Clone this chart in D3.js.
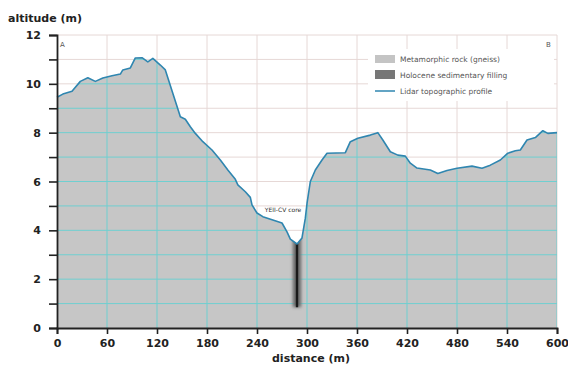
<!DOCTYPE html>
<html><head><meta charset="utf-8">
<script src="https://cdn.jsdelivr.net/npm/d3@7"></script>
<style>body{margin:0;background:#fff}svg{display:block}text{font-family:"DejaVu Sans",sans-serif}</style>
</head><body>
<svg id="c" width="568" height="367"></svg>
<script>
const distance = [0,7,18,28,37,46,55,66,76,79,88,94,102,109,115,124,130,148,154,160,166,175,186,196,205,214,217,226,232,234,240,247,259,270,276,280,288,294,298,300,304,310,318,324,346,352,361,376,385,391,400,409,418,424,432,448,457,468,480,498,510,520,532,541,550,556,564,574,583,589,600];
const altitude = [9.45,9.58,9.7,10.1,10.25,10.1,10.24,10.33,10.4,10.57,10.65,11.06,11.07,10.9,11.04,10.77,10.57,8.65,8.55,8.24,7.97,7.63,7.29,6.88,6.47,6.09,5.86,5.58,5.35,5.04,4.71,4.56,4.42,4.3,3.94,3.64,3.44,3.69,4.5,5.1,6.0,6.47,6.88,7.16,7.18,7.63,7.77,7.9,8.0,7.7,7.22,7.08,7.04,6.75,6.55,6.47,6.33,6.45,6.54,6.63,6.54,6.67,6.88,7.16,7.26,7.29,7.7,7.8,8.08,7.97,8.0];
const xTicks = [0,60,120,180,240,300,360,420,480,540,600];
const yTicks = [0,1,2,3,4,5,6,7,8,9,10,11,12];
const yLabels = [0,2,4,6,8,10,12];
const coreDistance = 288;
const coreBottom = 0.85;
const fillingRange = [283, 293];
const legendItems = ["Metamorphic rock (gneiss)","Holocene sedimentary filling","Lidar topographic profile"];

const svg = d3.select("#c");
const x = d3.scaleLinear().domain([0,600]).range([57,557]);
const y = d3.scaleLinear().domain([0,12]).range([328,35]);
const pts = distance.map((d,i)=>[d, altitude[i]]);

const defs = svg.append("defs");
const area = d3.area().x(d=>x(d[0])).y0(y(0)).y1(d=>y(d[1]));
defs.append("clipPath").attr("id","clipA").append("path").attr("d", area(pts));
const blur = defs.append("filter").attr("id","bl").attr("x","-1").attr("y","-1").attr("width","3").attr("height","3");
blur.append("feGaussianBlur").attr("stdDeviation",1.6);

// pale grid
const gridG = svg.append("g");
function drawGrid(g, color){
  g.selectAll(".h").data(yTicks.filter(v=>v>0)).join("line")
    .attr("x1",x(0)).attr("x2",x(600)).attr("y1",d=>y(d)).attr("y2",d=>y(d))
    .attr("stroke",color).attr("stroke-width",1);
  g.selectAll(".v").data(xTicks.filter(v=>v>0)).join("line")
    .attr("x1",d=>x(d)).attr("x2",d=>x(d)).attr("y1",y(0)).attr("y2",y(12))
    .attr("stroke",color).attr("stroke-width",1);
}
drawGrid(gridG, "#e6d8d6");

// area
svg.append("path").attr("d", area(pts)).attr("fill","#c6c6c6");

// cyan grid clipped
const g2 = svg.append("g").attr("clip-path","url(#clipA)");
drawGrid(g2, "#6fcfd0");

// Holocene filling
const surfAt = d3.scaleLinear().domain(distance).range(altitude);
svg.append("g").attr("clip-path","url(#clipA)").append("rect")
  .attr("x", x(fillingRange[0])).attr("width", x(fillingRange[1])-x(fillingRange[0]))
  .attr("y", y(surfAt(coreDistance)+0.4)).attr("height", y(coreBottom)-y(surfAt(coreDistance)+0.4))
  .attr("fill","#6a6a6a").attr("filter","url(#bl)");
svg.append("line").attr("x1",x(coreDistance)).attr("x2",x(coreDistance))
  .attr("y1",y(surfAt(coreDistance))).attr("y2",y(coreBottom))
  .attr("stroke","#1a1a1a").attr("stroke-width",2.4);

// profile line
svg.append("path").attr("d", d3.line().x(d=>x(d[0])).y(d=>y(d[1]))(pts))
  .attr("fill","none").attr("stroke","#2f86b0").attr("stroke-width",1.6).attr("stroke-linejoin","round");

// core label
svg.append("text").attr("x",x(coreDistance)-14).attr("y",y(4.75)).attr("text-anchor","middle")
  .attr("font-size",6).attr("fill","#333").text("YEII-CV core");

// A / B
svg.append("text").attr("x",60).attr("y",47).attr("font-size",7).attr("fill","#555").text("A");
svg.append("text").attr("x",546).attr("y",47).attr("font-size",7).attr("fill","#555").text("B");

// legend
const lg = svg.append("g");
lg.append("rect").attr("x",368).attr("y",49).attr("width",186).attr("height",52).attr("fill","#fff");
lg.append("rect").attr("x",375).attr("y",55).attr("width",20).attr("height",8).attr("fill","#c4c4c4");
lg.append("rect").attr("x",375).attr("y",70).attr("width",20).attr("height",9).attr("fill","#777");
lg.append("line").attr("x1",375).attr("x2",395).attr("y1",91).attr("y2",91).attr("stroke","#2f86b0").attr("stroke-width",1.5);
lg.selectAll("text.l").data(legendItems).join("text")
  .attr("x",400).attr("y",(d,i)=>[62,78,94][i]).attr("font-size",7.5).attr("fill","#555").text(d=>d);

// axes
const yAxis = d3.axisLeft(y).tickValues(yTicks).tickSize(8).tickFormat(d=> yLabels.includes(d)? d : "");
const ya = svg.append("g").attr("transform",`translate(${x(0)},0)`).call(yAxis);
ya.select(".domain").attr("stroke","#222").attr("stroke-width",1.8);
ya.selectAll(".tick line").attr("stroke","#222").attr("stroke-width",1.6);
ya.selectAll(".tick text").attr("font-size",11).attr("font-weight","bold").attr("fill","#222").attr("x",-16).attr("font-family","DejaVu Sans");

const xAxis = d3.axisBottom(x).tickValues(xTicks).tickSize(6);
const xa = svg.append("g").attr("transform",`translate(0,${y(0)})`).call(xAxis);
xa.select(".domain").attr("stroke","#222").attr("stroke-width",1.8);
xa.selectAll(".tick line").attr("stroke","#222").attr("stroke-width",1.6);
xa.selectAll(".tick text").attr("font-size",11).attr("font-weight","bold").attr("fill","#222").attr("y",11).attr("font-family","DejaVu Sans");

svg.append("text").attr("x",8).attr("y",22).attr("font-size",11).attr("font-weight","bold").attr("fill","#222").text("altitude (m)");
svg.append("text").attr("x",311).attr("y",362).attr("text-anchor","middle").attr("font-size",11).attr("font-weight","bold").attr("fill","#222").text("distance (m)");
</script>
</body></html>
